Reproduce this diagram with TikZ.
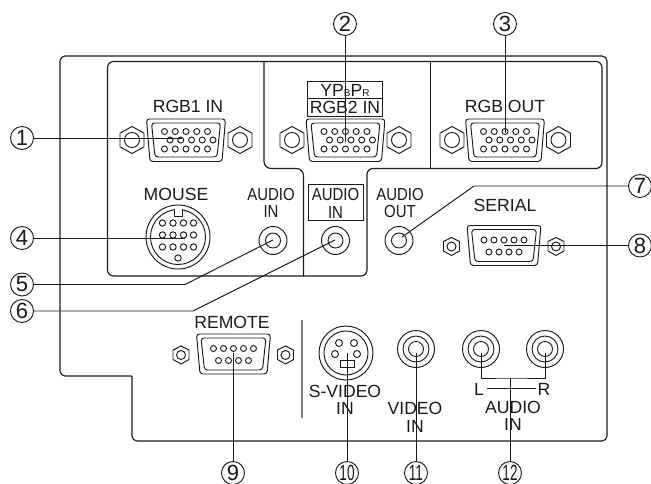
\documentclass[tikz,border=0pt]{standalone}
\usepackage{fontspec}
\setmainfont{Liberation Sans}
\definecolor{ink}{HTML}{1a1a1a}
\newcommand\narrowlbl[1]{\scalebox{.86}[1]{#1}}
\tikzset{
  panel/.style={ink,line width=1.15pt},
  port/.style={ink,line width=.95pt},
  lead/.style={ink,line width=.95pt},
  lbl/.style={inner sep=0pt,ink,font=\fontsize{17.6}{18}\selectfont},
  lblnarrow/.style={inner sep=0pt,ink,font=\fontsize{17.4}{18}\selectfont},
  num/.style={circle,draw=ink,line width=.95pt,inner sep=0pt,minimum size=23pt,text=ink,font=\fontsize{22}{22}\selectfont},
}
\begin{document}
\begin{tikzpicture}[x=1pt,y=-1pt]
  \useasboundingbox (0,0) rectangle (651,484);

  % carcasa
  \draw[panel,rounded corners=5] (132,376) -- (60,376) -- (60,56) -- (607,56) -- (607,441) -- (132,441) [sharp corners] -- (132,376);
  \draw[panel,rounded corners=6] (107.5,100) -- (107.5,61.5) -- (602,61.5) -- (602,168.5) -- (367,168.5) -- (367,276) -- (107.5,276) -- cycle;
  \draw[panel,rounded corners=7] (264,61.5) -- (264,168.5) -- (303.5,168.5) -- (303.5,276);
  \draw[panel] (430.5,61.5) -- (430.5,168.5);
  \draw[gray,line width=1.4pt] (302,320) -- (302,418);

  % mufe VGA
  \foreach \px/\nl/\nr in {186/132/240,345.5/292/399,505/452/558.5} {
    \draw[port,rounded corners=3] (\px-39.5,119) -- (\px+39.5,119) -- (\px+36,161.5) -- (\px-36,161.5) -- cycle;
    \draw[port,rounded corners=3] (\px-34.5,123) -- (\px+34.5,123) -- (\px+31,157) -- (\px-31,157) -- cycle;
    \foreach \dx in {-21.5,-10.75,0,10.75,21.5} {
      \draw[port] (\px+\dx,131.5) circle (3);
      \draw[port] (\px+\dx+5.5,140) circle (3);
      \draw[port] (\px+\dx,149) circle (3);
    }
    \foreach \nx in {\nl,\nr} {
      \draw[port] (\nx,126.5) -- (\nx+12,133.2) -- (\nx+12,146.8) -- (\nx,153.5) -- (\nx-12,146.8) -- (\nx-12,133.2) -- cycle;
      \draw[port] (\nx,140) circle (7.5);
    }
  }

  % mufe cu 9 pini
  \foreach \px/\py in {504/246,233.5/354.5} {
    \draw[port,rounded corners=3] (\px-37,\py-20.5) -- (\px+37,\py-20.5) -- (\px+33.5,\py+19.5) -- (\px-33.5,\py+19.5) -- cycle;
    \draw[port,rounded corners=3] (\px-32.5,\py-16.5) -- (\px+32.5,\py-16.5) -- (\px+29,\py+15.5) -- (\px-29,\py+15.5) -- cycle;
    \foreach \dx in {-20,-10,0,10,20} \draw[port] (\px+\dx,\py-6) circle (3);
    \foreach \dx in {-15,-5,5,15} \draw[port] (\px+\dx,\py+6) circle (3);
    \foreach \nx in {-52.5,52} {
      \draw[port] (\px+\nx,\py-8.5) -- (\px+\nx+8,\py-4.5) -- (\px+\nx+8,\py+5) -- (\px+\nx,\py+9.5) -- (\px+\nx-8,\py+5) -- (\px+\nx-8,\py-4.5) -- cycle;
      \draw[port] (\px+\nx,\py+.5) circle (4.5);
    }
  }

  % mufa MOUSE
  \draw[port] (178,237) circle (32);
  \draw[port] (178,237) circle (27.5);
  \fill[white] (174.5,208.5) rectangle (181.5,211);
  \draw[port] (174,209) -- (174,216) -- (182,216) -- (182,209);
  \foreach \rowy in {223,235,247}
    \foreach \dx in {162.5,173,183.5,193.5}
      \draw[port] (\dx,\rowy) circle (3.2);
  \draw[port] (178,258) circle (3.2);

  % mufa S-VIDEO
  \draw[port] (346,353) circle (27);
  \draw[port] (346,353) circle (22);
  \foreach \dx/\dy in {339/343,354/343,335/354,357/354}
    \draw[port] (\dx,\dy) circle (3.5);
  \draw[port] (340,360.5) rectangle (354,367);

  % mufe audio
  \foreach \jx in {273,335.5,399} {
    \draw[port] (\jx,240.5) circle (14);
    \draw[port] (\jx,240.5) circle (7.5);
  }
  \foreach \jx in {416,481,545} {
    \draw[port] (\jx,349) circle (18.5);
    \draw[port] (\jx,349) circle (13);
    \draw[port] (\jx,349) circle (7.5);
  }

  % cutiile etichetelor
  \draw[port] (307,81) rectangle (382,116);
  \draw[port] (307,98) -- (382,98);
  \draw[port] (308,184.5) rectangle (363,220);

  % etichete
  \node[lbl] (rgbone) at (188,106.5) {RGB1 IN};
  \node[lbl] (ypbpr) at (345,90) {YP{\fontsize{10}{10}\selectfont B}P{\fontsize{10}{10}\selectfont R}};
  \node[lbl] (rgbtwo) at (345,107) {RGB2 IN};
  \node[lbl] (rgbout) at (505,106.5) {RGB OUT};
  \node[lbl] (mouse) at (176,194) {MOUSE};
  \node[lblnarrow] (audioa) at (271,195) {\narrowlbl{AUDIO}};
  \node[lblnarrow] (audioain) at (271,212) {\narrowlbl{IN}};
  \node[lblnarrow] (audiob) at (335.5,195) {\narrowlbl{AUDIO}};
  \node[lblnarrow] (audiobin) at (335.5,212.5) {\narrowlbl{IN}};
  \node[lblnarrow] (audioc) at (400,195) {\narrowlbl{AUDIO}};
  \node[lblnarrow] (audiocout) at (400,212) {\narrowlbl{OUT}};
  \node[lbl] (serial) at (505,205.7) {SERIAL};
  \node[lbl] (remote) at (232,322) {REMOTE};
  \node[lbl] (svideo) at (345,391) {S-VIDEO};
  \node[lbl] (svideoin) at (345,408) {IN};
  \node[lbl] (video) at (415,408) {VIDEO};
  \node[lbl] (videoin) at (415,426) {IN};
  \node[lbl] (left) at (479,389) {L};
  \node[lbl] (right) at (544,389) {R};
  \node[lbl] (audiod) at (513,407) {AUDIO};
  \node[lbl] (audiodin) at (513,424) {IN};
  \draw[port] (left) ++(8,-.5) -- ++(49,0);

  % numerele
  \node[num] (n1) at (22,138) {1};
  \node[num] (n2) at (345,24) {2};
  \node[num] (n3) at (505,24) {3};
  \node[num] (n4) at (22,238) {4};
  \node[num] (n5) at (22,284.5) {5};
  \node[num] (n6) at (22,311) {6};
  \node[num] (n7) at (640,186) {7};
  \node[num] (n8) at (640,245.5) {8};
  \node[num] (n9) at (233,473) {9};
  \node[num] (n10) at (347,473) {\scalebox{.62}[1]{10}};
  \node[num] (n11) at (416,473) {\scalebox{.62}[1]{11}};
  \node[num] (n12) at (510,473) {\scalebox{.62}[1]{12}};

  % capetele liniilor
  \coordinate (t1) at (182,138);
  \coordinate (t2) at (345,142);
  \coordinate (t3) at (505,133);
  \coordinate (t4) at (185,238);
  \coordinate (t5) at (273,240);
  \coordinate (b5) at (185,284.5);
  \coordinate (t6) at (335,240);
  \coordinate (b6) at (193,311);
  \coordinate (t7) at (402,237);
  \coordinate (b7) at (474,186);
  \coordinate (t8) at (504,245.5);
  \coordinate (t9) at (233,353);
  \coordinate (t10) at (347,353);
  \coordinate (t11) at (416,353);
  \coordinate (b12) at (510,378);
  \coordinate (tl) at (481,353);
  \coordinate (tr) at (545,353);

  % linii
  \foreach \from/\to in {n1/t1,n2/t2,n3/t3,n4/t4,n8/t8,n9/t9,n10/t10,n11/t11,n12/b12}
    \draw[lead] (\from) -- (\to);
  \draw[lead] (n5) -- (b5) -- (t5);
  \draw[lead] (n6) -- (b6) -- (t6);
  \draw[lead] (n7) -- (b7) -- (t7);
  \draw[lead] (tl) |- (b12) -| (tr);
\end{tikzpicture}
\end{document}
